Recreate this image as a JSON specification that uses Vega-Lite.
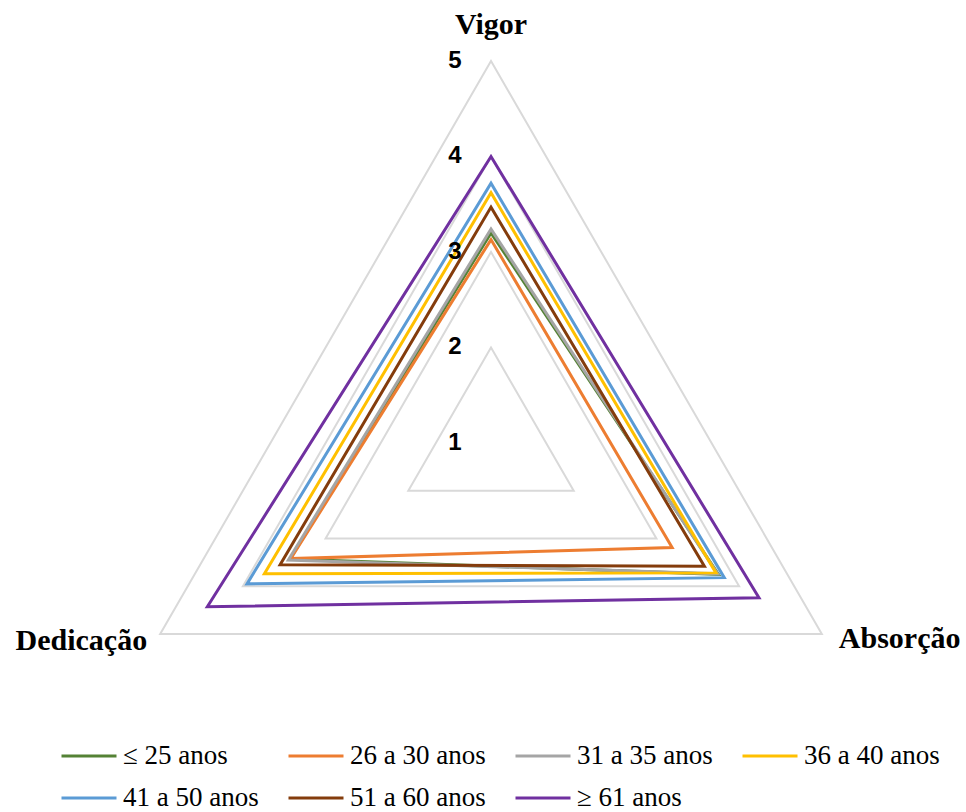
{
  "$schema": "https://vega.github.io/schema/vega-lite/v6.json",
  "width": 966,
  "height": 812,
  "autosize": "none",
  "padding": 0,
  "background": "white",
  "config": {"view": {"stroke": null}},
  "datasets": {
    "grade": [
      {"nivel": 2, "dim": "Vigor"}, {"nivel": 2, "dim": "Absorção"}, {"nivel": 2, "dim": "Dedicação"},
      {"nivel": 3, "dim": "Vigor"}, {"nivel": 3, "dim": "Absorção"}, {"nivel": 3, "dim": "Dedicação"},
      {"nivel": 4, "dim": "Vigor"}, {"nivel": 4, "dim": "Absorção"}, {"nivel": 4, "dim": "Dedicação"},
      {"nivel": 5, "dim": "Vigor"}, {"nivel": 5, "dim": "Absorção"}, {"nivel": 5, "dim": "Dedicação"}
    ],
    "escores": [
      {"grupo": "≤ 25 anos", "dim": "Vigor", "valor": 3.20},
      {"grupo": "≤ 25 anos", "dim": "Absorção", "valor": 3.75},
      {"grupo": "≤ 25 anos", "dim": "Dedicação", "valor": 3.43},
      {"grupo": "26 a 30 anos", "dim": "Vigor", "valor": 3.13},
      {"grupo": "26 a 30 anos", "dim": "Absorção", "valor": 3.19},
      {"grupo": "26 a 30 anos", "dim": "Dedicação", "valor": 3.42},
      {"grupo": "31 a 35 anos", "dim": "Vigor", "valor": 3.24},
      {"grupo": "31 a 35 anos", "dim": "Absorção", "valor": 3.74},
      {"grupo": "31 a 35 anos", "dim": "Dedicação", "valor": 3.45},
      {"grupo": "36 a 40 anos", "dim": "Vigor", "valor": 3.62},
      {"grupo": "36 a 40 anos", "dim": "Absorção", "valor": 3.72},
      {"grupo": "36 a 40 anos", "dim": "Dedicação", "valor": 3.74},
      {"grupo": "41 a 50 anos", "dim": "Vigor", "valor": 3.72},
      {"grupo": "41 a 50 anos", "dim": "Absorção", "valor": 3.82},
      {"grupo": "41 a 50 anos", "dim": "Dedicação", "valor": 3.95},
      {"grupo": "51 a 60 anos", "dim": "Vigor", "valor": 3.47},
      {"grupo": "51 a 60 anos", "dim": "Absorção", "valor": 3.58},
      {"grupo": "51 a 60 anos", "dim": "Dedicação", "valor": 3.55},
      {"grupo": "≥ 61 anos", "dim": "Vigor", "valor": 4.00},
      {"grupo": "≥ 61 anos", "dim": "Absorção", "valor": 4.24},
      {"grupo": "≥ 61 anos", "dim": "Dedicação", "valor": 4.43}
    ],
    "niveis": [
      {"nivel": 1}, {"nivel": 2}, {"nivel": 3}, {"nivel": 4}, {"nivel": 5}
    ],
    "eixos": [
      {"dim": "Vigor", "nivel": 5},
      {"dim": "Absorção", "nivel": 5},
      {"dim": "Dedicação", "nivel": 5}
    ]
  },
  "layer": [
    {
      "data": {"name": "grade"},
      "transform": [
        {"calculate": "datum.dim === 'Vigor' ? PI / 2 : (datum.dim === 'Absorção' ? -PI / 6 : 7 * PI / 6)", "as": "ang"},
        {"calculate": "(datum.nivel - 1) * cos(datum.ang)", "as": "x"},
        {"calculate": "(datum.nivel - 1) * sin(datum.ang)", "as": "y"}
      ],
      "mark": {"type": "line", "interpolate": "linear-closed", "stroke": "#D9D9D9", "strokeWidth": 2, "strokeJoin": "miter"},
      "encoding": {
        "detail": {"field": "nivel", "type": "nominal"},
        "x": {"field": "x", "type": "quantitative", "scale": {"domain": [-5.1414, 4.9738], "nice": false, "zero": false}, "axis": null},
        "y": {"field": "y", "type": "quantitative", "scale": {"domain": [-3.8639, 4.6387], "nice": false, "zero": false}, "axis": null}
      }
    },
    {
      "data": {"name": "escores"},
      "transform": [
        {"calculate": "datum.dim === 'Vigor' ? PI / 2 : (datum.dim === 'Absorção' ? -PI / 6 : 7 * PI / 6)", "as": "ang"},
        {"calculate": "(datum.valor - 1) * cos(datum.ang)", "as": "x"},
        {"calculate": "(datum.valor - 1) * sin(datum.ang)", "as": "y"}
      ],
      "mark": {"type": "line", "interpolate": "linear-closed", "strokeWidth": 3, "strokeJoin": "miter"},
      "encoding": {
        "x": {"field": "x", "type": "quantitative", "scale": {"domain": [-5.1414, 4.9738], "nice": false, "zero": false}, "axis": null},
        "y": {"field": "y", "type": "quantitative", "scale": {"domain": [-3.8639, 4.6387], "nice": false, "zero": false}, "axis": null},
        "color": {
          "field": "grupo",
          "type": "nominal",
          "scale": {
            "domain": ["≤ 25 anos", "26 a 30 anos", "31 a 35 anos", "36 a 40 anos", "41 a 50 anos", "51 a 60 anos", "≥ 61 anos"],
            "range": ["#548235", "#ED7D31", "#A5A5A5", "#FFC000", "#5B9BD5", "#843C0C", "#7030A0"]
          },
          "legend": {
            "orient": "none",
            "legendX": 60,
            "legendY": 727,
            "direction": "horizontal",
            "columns": 4,
            "title": null,
            "symbolType": "stroke",
            "symbolSize": 3025,
            "symbolStrokeWidth": 3,
            "labelFont": "Liberation Serif",
            "labelFontSize": 27,
            "labelColor": "#000000",
            "labelOffset": 5,
            "labelLimit": 400,
            "columnPadding": 23,
            "rowPadding": -7,
            "padding": 0
          }
        }
      }
    },
    {
      "data": {"name": "niveis"},
      "transform": [
        {"calculate": "0", "as": "x"},
        {"calculate": "datum.nivel - 1", "as": "y"}
      ],
      "mark": {"type": "text", "font": "Liberation Sans", "fontWeight": "bold", "fontSize": 24, "color": "#000000", "align": "center", "baseline": "middle", "dx": -36, "dy": 0},
      "encoding": {
        "x": {"field": "x", "type": "quantitative", "scale": {"domain": [-5.1414, 4.9738], "nice": false, "zero": false}, "axis": null},
        "y": {"field": "y", "type": "quantitative", "scale": {"domain": [-3.8639, 4.6387], "nice": false, "zero": false}, "axis": null},
        "text": {"field": "nivel", "type": "quantitative"}
      }
    },
    {
      "data": {"name": "eixos"},
      "transform": [
        {"filter": "datum.dim === 'Vigor'"},
        {"calculate": "0", "as": "x"},
        {"calculate": "datum.nivel - 1", "as": "y"}
      ],
      "mark": {"type": "text", "font": "Liberation Serif", "fontWeight": "bold", "fontSize": 30, "color": "#000000", "align": "center", "baseline": "alphabetic", "dy": -27},
      "encoding": {
        "x": {"field": "x", "type": "quantitative", "scale": {"domain": [-5.1414, 4.9738], "nice": false, "zero": false}, "axis": null},
        "y": {"field": "y", "type": "quantitative", "scale": {"domain": [-3.8639, 4.6387], "nice": false, "zero": false}, "axis": null},
        "text": {"field": "dim", "type": "nominal"}
      }
    },
    {
      "data": {"name": "eixos"},
      "transform": [
        {"filter": "datum.dim === 'Absorção'"},
        {"calculate": "(datum.nivel - 1) * cos(-PI / 6)", "as": "x"},
        {"calculate": "(datum.nivel - 1) * sin(-PI / 6)", "as": "y"}
      ],
      "mark": {"type": "text", "font": "Liberation Serif", "fontWeight": "bold", "fontSize": 30, "color": "#000000", "align": "left", "baseline": "alphabetic", "dx": 17, "dy": 14},
      "encoding": {
        "x": {"field": "x", "type": "quantitative", "scale": {"domain": [-5.1414, 4.9738], "nice": false, "zero": false}, "axis": null},
        "y": {"field": "y", "type": "quantitative", "scale": {"domain": [-3.8639, 4.6387], "nice": false, "zero": false}, "axis": null},
        "text": {"field": "dim", "type": "nominal"}
      }
    },
    {
      "data": {"name": "eixos"},
      "transform": [
        {"filter": "datum.dim === 'Dedicação'"},
        {"calculate": "(datum.nivel - 1) * cos(7 * PI / 6)", "as": "x"},
        {"calculate": "(datum.nivel - 1) * sin(7 * PI / 6)", "as": "y"}
      ],
      "mark": {"type": "text", "font": "Liberation Serif", "fontWeight": "bold", "fontSize": 30, "color": "#000000", "align": "right", "baseline": "alphabetic", "dx": -13, "dy": 16},
      "encoding": {
        "x": {"field": "x", "type": "quantitative", "scale": {"domain": [-5.1414, 4.9738], "nice": false, "zero": false}, "axis": null},
        "y": {"field": "y", "type": "quantitative", "scale": {"domain": [-3.8639, 4.6387], "nice": false, "zero": false}, "axis": null},
        "text": {"field": "dim", "type": "nominal"}
      }
    }
  ]
}
